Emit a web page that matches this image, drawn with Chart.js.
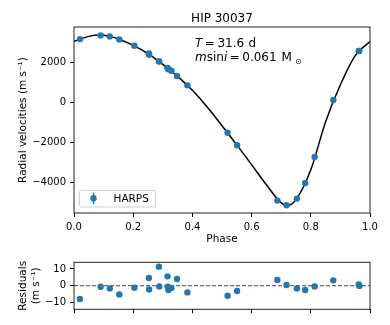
<!DOCTYPE html>
<html>
<head>
<meta charset="utf-8">
<script src="https://cdn.jsdelivr.net/npm/chart.js@4"></script>
<style>
  html, body { margin: 0; padding: 0; background: #fff; }
  #wrap { position: relative; width: 390px; height: 325px; }
  canvas { position: absolute; left: 0; }
  #rvChart { top: 0; }
  #resChart { top: 250px; }
</style>
</head>
<body>
<div id="wrap">
  <canvas id="rvChart" width="390" height="250"></canvas>
  <canvas id="resChart" width="390" height="75"></canvas>
</div>
<script>
// Observed HARPS points (phase, radial velocity, residual)
const phase = [0.020, 0.090, 0.121, 0.153, 0.204, 0.253, 0.254, 0.287, 0.288, 0.316, 0.317, 0.319, 0.329, 0.348, 0.383, 0.519, 0.551, 0.687, 0.718, 0.753, 0.781, 0.813, 0.876, 0.962, 0.964];
const rv = [3165, 3350, 3300, 3150, 2830, 2440, 2380, 2050, 2040, 1715, 1700, 1650, 1580, 1315, 850, -1520, -2150, -4920, -5150, -4820, -4035, -2735, 115, 2565, 2575];
const resid = [-7.9, -0.6, -1.6, -5.2, -1.2, 4.6, -2.2, 11.4, -0.4, 5.6, -0.6, -2.6, -1.4, 4.0, -4.0, -6.0, -3.2, 3.4, 0.4, -1.6, -2.6, -0.4, 3.2, 0.8, -0.1];

// Fitted orbit
const modelPhase = [0, 0.05, 0.085, 0.12, 0.15, 0.2, 0.25, 0.3, 0.35, 0.4, 0.45, 0.5, 0.55, 0.6, 0.65, 0.7, 0.72, 0.75, 0.8, 0.85, 0.9, 0.95, 1.0];
const modelRv = [3050, 3300, 3370, 3300, 3170, 2850, 2440, 1900, 1300, 600, -230, -1170, -2130, -3120, -4130, -5030, -5170, -4870, -3380, -970, 880, 2340, 3040];

// Axis ticks
const phaseTicks = [0, 0.2, 0.4, 0.6, 0.8, 1.0];
const rvTicks = [-4000, -2000, 0, 2000];
const residTicks = [-10, 0, 10];

const BLUE = '#1f77b4';
const FONT = "'DejaVu Sans', sans-serif";
Chart.defaults.color = '#000';
Chart.defaults.font.family = FONT;
Chart.defaults.font.size = 10;

const minus = v => String(v).replace('-', '\u2212');

function xScale(showLabels, height) {
    return {
        type: 'linear', min: 0, max: 1,
        afterBuildTicks: s => { s.ticks = phaseTicks.map(v => ({ value: v })); },
        afterFit: s => { s.height = height; },
        grid: { display: true, drawOnChartArea: false, drawTicks: true, tickLength: 4, color: '#000' },
        border: { display: false },
        ticks: { padding: 4, maxRotation: 0, autoSkip: false,
                 callback: v => showLabels ? v.toFixed(1) : '' }
    };
}

function yScale(min, max, ticks) {
    return {
        type: 'linear', min: min, max: max,
        afterBuildTicks: s => { s.ticks = ticks.map(v => ({ value: v })); },
        afterFit: s => { s.width = 74; },
        grid: { display: true, drawOnChartArea: false, drawTicks: true, tickLength: 4, color: '#000' },
        border: { display: false },
        ticks: { padding: 4, callback: v => minus(v) }
    };
}

function frame(ctx, a) {
    ctx.save();
    ctx.strokeStyle = '#222';
    ctx.lineWidth = 1;
    ctx.strokeRect(a.left, a.top, a.right - a.left, a.bottom - a.top);
    ctx.restore();
}

// draw a list of text runs one after another
function runs(ctx, x, y, parts) {
    parts.forEach(p => {
        ctx.font = p.font;
        x += p.gap || 0;
        ctx.fillText(p.t, x, y + (p.dy || 0));
        x += ctx.measureText(p.t).width;
    });
}

const rvDecor = {
    id: 'rvDecor',
    afterDraw(chart) {
        const ctx = chart.ctx, a = chart.chartArea;
        frame(ctx, a);
        ctx.save();
        ctx.fillStyle = '#000';
        ctx.textBaseline = 'alphabetic';

        // title
        ctx.font = '12px ' + FONT;
        ctx.textAlign = 'center';
        ctx.fillText('HIP 30037', (a.left + a.right) / 2, 22);
        ctx.font = '10.5px ' + FONT;
        ctx.fillText('Phase', (a.left + a.right) / 2, 242);

        // y label
        ctx.save();
        ctx.translate(26, (a.top + a.bottom) / 2);
        ctx.rotate(-Math.PI / 2);
        ctx.fillText('Radial velocities (m s\u207B\u00B9)', 0, 0);
        ctx.restore();

        // annotation
        ctx.textAlign = 'left';
        const it = 'italic 12px ' + FONT, up = '12px ' + FONT;
        runs(ctx, 195, 46.5, [
            { t: 'T', font: it },
            { t: '=', font: up, gap: 2.5 },
            { t: '31.6', font: up, gap: 2.5 },
            { t: 'd', font: up, gap: 4.5 }
        ]);
        runs(ctx, 195, 61, [
            { t: 'm', font: it },
            { t: 'sin', font: up },
            { t: 'i', font: it },
            { t: '=', font: up, gap: 2.5 },
            { t: '0.061', font: up, gap: 2.5 },
            { t: 'M', font: up, gap: 5 },
            { t: '\u2299', font: '8px ' + FONT, gap: 3, dy: 3 }
        ]);

        // legend
        ctx.fillStyle = 'rgba(255,255,255,0.8)';
        ctx.strokeStyle = '#d0d0d0';
        ctx.lineWidth = 1;
        ctx.beginPath();
        ctx.roundRect(79.5, 190.5, 76, 16.5, 2);
        ctx.fill();
        ctx.stroke();
        ctx.strokeStyle = BLUE;
        ctx.lineWidth = 1.5;
        ctx.beginPath();
        ctx.moveTo(93.5, 192.5);
        ctx.lineTo(93.5, 204);
        ctx.stroke();
        ctx.fillStyle = BLUE;
        ctx.beginPath();
        ctx.arc(93.5, 198.3, 3.2, 0, Math.PI * 2);
        ctx.fill();
        ctx.fillStyle = '#000';
        ctx.font = '10.5px ' + FONT;
        ctx.fillText('HARPS', 113.5, 202);
        ctx.restore();
    }
};

const resDecor = {
    id: 'resDecor',
    afterDraw(chart) {
        const ctx = chart.ctx, a = chart.chartArea;
        frame(ctx, a);
        ctx.save();
        ctx.fillStyle = '#000';
        ctx.font = '10.5px ' + FONT;
        ctx.textAlign = 'center';
        ctx.translate(26, (a.top + a.bottom) / 2);
        ctx.rotate(-Math.PI / 2);
        ctx.fillText('Residuals', 0, 0);
        ctx.fillText('(m s\u207B\u00B9)', 0, 12.5);
        ctx.restore();
    }
};

const pts = (xs, ys) => xs.map((x, i) => ({ x: x, y: ys[i] }));

new Chart(document.getElementById('rvChart'), {
    type: 'scatter',
    data: {
        datasets: [{
            label: 'HARPS',
            data: pts(phase, rv),
            backgroundColor: BLUE, borderColor: BLUE,
            pointRadius: 3.2, pointBorderWidth: 0
        }, {
            label: 'model',
            data: pts(modelPhase, modelRv),
            showLine: true,
            borderColor: '#000', borderWidth: 1.5,
            pointRadius: 0,
            cubicInterpolationMode: 'monotone'
        }]
    },
    options: {
        responsive: false,
        animation: false,
        layout: { padding: { top: 27, right: 20, left: 0, bottom: 0 } },
        plugins: { legend: { display: false }, tooltip: { enabled: false } },
        scales: {
            x: xScale(true, 37),
            y: yScale(-5540, 3770, rvTicks)
        }
    },
    plugins: [rvDecor]
});

new Chart(document.getElementById('resChart'), {
    type: 'scatter',
    data: {
        datasets: [{
            label: 'residuals',
            data: pts(phase, resid),
            backgroundColor: BLUE, borderColor: BLUE,
            pointRadius: 3.2, pointBorderWidth: 0
        }, {
            label: 'zero',
            data: [{ x: 0, y: 0 }, { x: 1, y: 0 }],
            showLine: true,
            borderColor: '#444', borderWidth: 1, borderDash: [4, 2],
            pointRadius: 0
        }]
    },
    options: {
        responsive: false,
        animation: false,
        layout: { padding: { top: 12.3, right: 20, left: 0, bottom: 0 } },
        plugins: { legend: { display: false }, tooltip: { enabled: false } },
        scales: {
            x: xScale(false, 15.7),
            y: yScale(-14.1, 14, residTicks)
        }
    },
    plugins: [resDecor]
});
</script>
</body>
</html>
